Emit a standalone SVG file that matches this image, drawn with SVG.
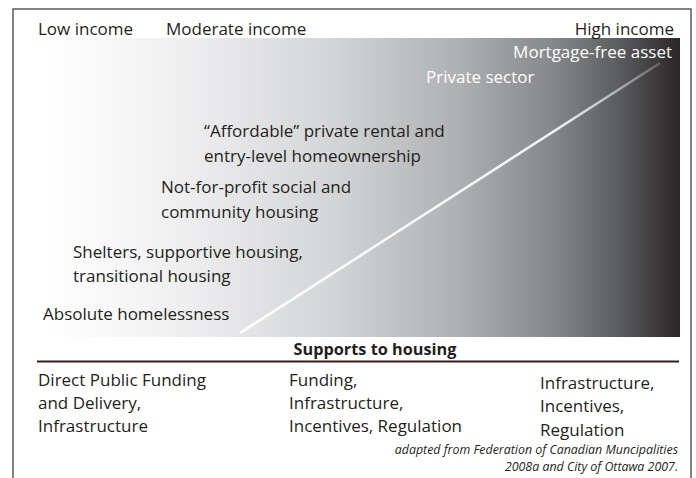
<svg xmlns="http://www.w3.org/2000/svg" width="696" height="478" viewBox="0 0 696 478">
<defs>
<linearGradient id="bg" x1="0" y1="0" x2="1" y2="0">
<stop offset="0" stop-color="#ffffff"/>
<stop offset="0.2" stop-color="#f0f0f1"/>
<stop offset="0.45" stop-color="#d4d5d7"/>
<stop offset="0.65" stop-color="#aeb0b2"/>
<stop offset="0.8" stop-color="#85878a"/>
<stop offset="0.9" stop-color="#5d5e60"/>
<stop offset="1" stop-color="#2a2526"/>
</linearGradient>
<linearGradient id="diag" gradientUnits="userSpaceOnUse" x1="240" y1="333" x2="660" y2="63">
<stop offset="0" stop-color="#ffffff"/>
<stop offset="0.75" stop-color="#f4f4f4"/>
<stop offset="1" stop-color="#ffffff" stop-opacity="0.2"/>
</linearGradient>
<style>
text{font-family:"Open Sans","Noto Sans","Liberation Sans",sans-serif;font-size:17px;fill:#231f20}
.w{fill:#ffffff}
.b{font-weight:bold;font-size:16.3px}
.cite{font-style:italic;font-size:12.4px}
.r{text-anchor:end}
</style>
</defs>
<g id="frame">
<path d="M13,478 V9 H691 V478" fill="none" stroke="#5a5a5a" stroke-width="1.5"/>
</g>
<g id="spectrum">
<rect x="46" y="38" width="634" height="299" fill="url(#bg)"/>
</g>
<g id="connectors">
<line x1="240" y1="333" x2="660" y2="63" stroke="url(#diag)" stroke-width="2.5"/>
<line x1="37" y1="361.5" x2="679" y2="361.5" stroke="#3a1e1e" stroke-width="2"/>
</g>
<g id="income-labels">
<text x="38" y="35">Low income</text>
<text x="166" y="35">Moderate income</text>
<text x="674" y="35" class="r">High income</text>
</g>
<g id="mortgage-free">
<text x="672" y="58" class="r w">Mortgage-free asset</text>
</g>
<g id="private-sector">
<text x="426" y="83" class="w">Private sector</text>
</g>
<g id="affordable">
<text x="204" y="137">“Affordable” private rental and</text>
<text x="204" y="162">entry-level homeownership</text>
</g>
<g id="nonprofit">
<text x="161" y="193">Not-for-profit social and</text>
<text x="161" y="218">community housing</text>
</g>
<g id="shelters">
<text x="73" y="258">Shelters, supportive housing,</text>
<text x="73" y="282">transitional housing</text>
</g>
<g id="homelessness">
<text x="43" y="320">Absolute homelessness</text>
</g>
<g id="supports-title">
<text x="375" y="355" class="b" text-anchor="middle">Supports to housing</text>
</g>
<g id="support-left">
<text x="38" y="386">Direct Public Funding</text>
<text x="38" y="409">and Delivery,</text>
<text x="38" y="432">Infrastructure</text>
</g>
<g id="support-middle">
<text x="289" y="386">Funding,</text>
<text x="289" y="409">Infrastructure,</text>
<text x="289" y="432">Incentives, Regulation</text>
</g>
<g id="support-right">
<text x="540" y="389">Infrastructure,</text>
<text x="540" y="412">Incentives,</text>
<text x="540" y="436">Regulation</text>
</g>
<g id="citation">
<text x="678" y="454" class="cite r">adapted from Federation of Canadian Muncipalities</text>
<text x="678" y="471" class="cite r">2008a and City of Ottawa 2007.</text>
</g>
</svg>
